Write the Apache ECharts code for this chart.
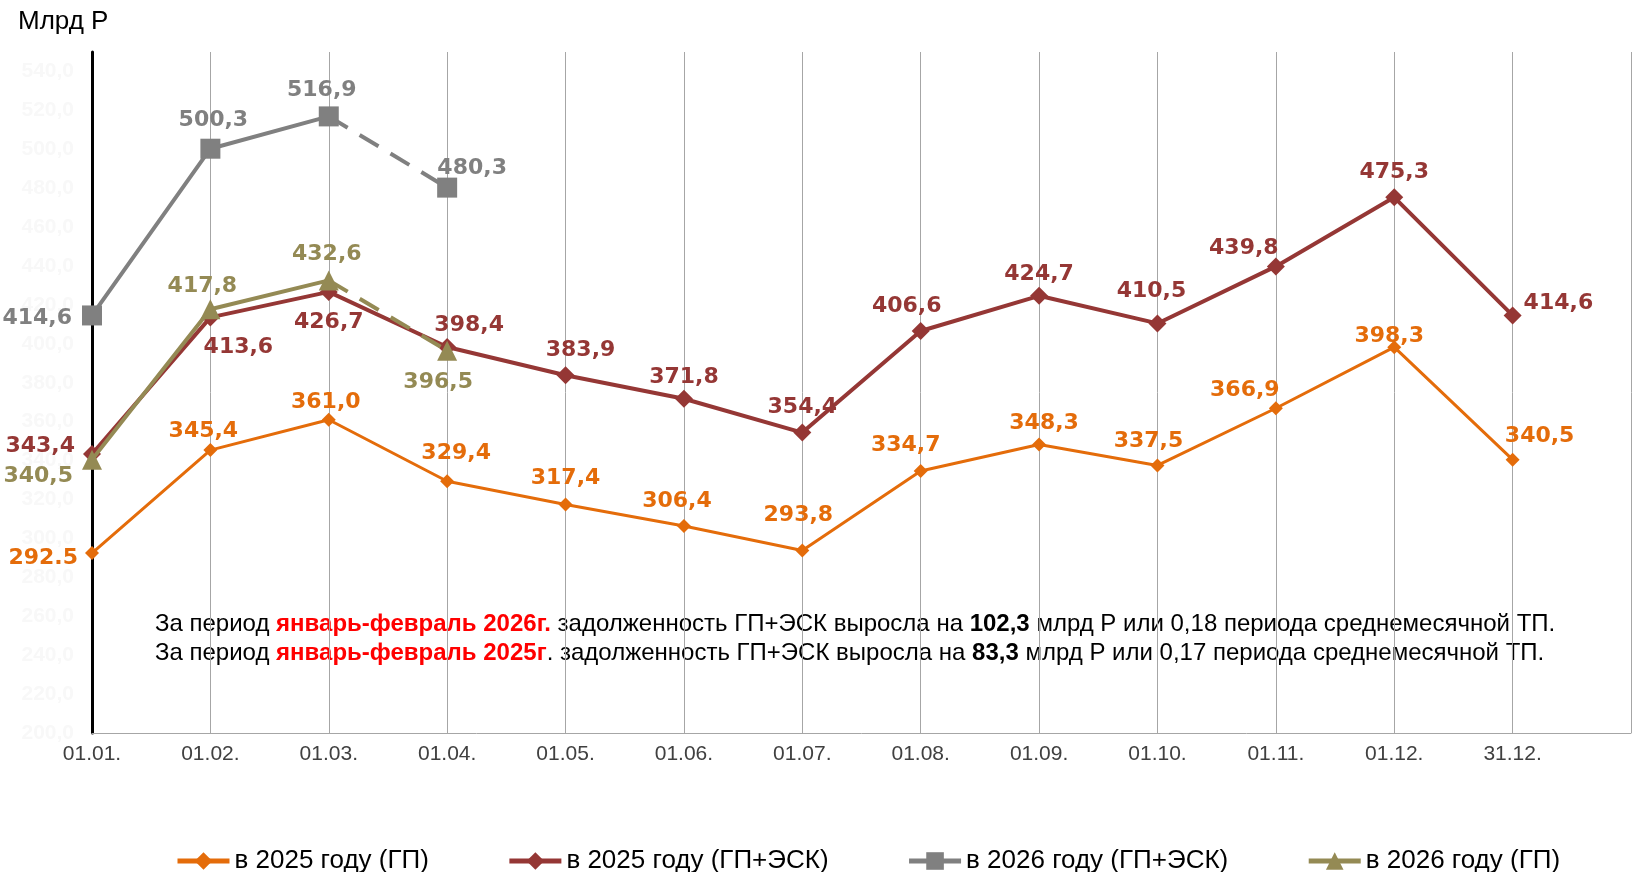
<!DOCTYPE html>
<html>
<head>
<meta charset="utf-8">
<script src="https://cdn.jsdelivr.net/npm/echarts@6/dist/echarts.min.js"></script>
<style>
  html, body { margin: 0; padding: 0; background: #fff; }
  #chart { width: 1634px; height: 872px; }
</style>
</head>
<body>
<div id="chart"></div>
<script>
// даты на оси
const categories = ['01.01.', '01.02.', '01.03.', '01.04.', '01.05.', '01.06.', '01.07.',
  '01.08.', '01.09.', '01.10.', '01.11.', '01.12.', '31.12.']
// в 2025 году (ГП)
const gp2025 = [292.5, 345.4, 361.0, 329.4, 317.4, 306.4, 293.8, 334.7, 348.3, 337.5, 366.9, 398.3, 340.5]
// в 2025 году (ГП+ЭСК)
const gpEsk2025 = [343.4, 413.6, 426.7, 398.4, 383.9, 371.8, 354.4, 406.6, 424.7, 410.5, 439.8, 475.3, 414.6]
// в 2026 году (ГП+ЭСК)
const gpEsk2026 = [414.6, 500.3, 516.9, 480.3]
// в 2026 году (ГП)
const gp2026 = [340.5, 417.8, 432.6, 396.5]

const names = ['в 2025 году (ГП)', 'в 2025 году (ГП+ЭСК)', 'в 2026 году (ГП+ЭСК)', 'в 2026 году (ГП)']
const colors = ['#e46c0a', '#953735', '#808080', '#948a54']

// положения подписей
const gp2025Pos = [
  { position: 'left', distance: 7, offset: [0, 5] },
  { offset: [-7, 4] }, { offset: [-3, 6] }, { offset: [9, -5] }, { offset: [0, -3] },
  { offset: [-7, -2] }, { offset: [-4, -12] }, { offset: [-15, -3] }, { offset: [5, 2] },
  { offset: [-9, -1] }, { offset: [-31, 5] }, { offset: [-5, 12] }, { offset: [27, 0] }
]
const gpEsk2025Pos = [
  { position: 'left', distance: 8, offset: [0, -8] },
  { position: 'bottom', offset: [28, 5] }, { position: 'bottom', offset: [0, 5] },
  { offset: [22, 3] }, { offset: [15, 0] }, { offset: [0, 4] }, { offset: [0, 0] },
  { offset: [-14, 0] }, { offset: [0, 3] }, { offset: [-6, -7] }, { offset: [-32, 7] },
  { offset: [0, 0] }, { position: 'right', distance: 2, offset: [0, -12] }
]
const gpEsk2026Pos = [
  { position: 'left', distance: 10, offset: [0, 3] },
  { offset: [3, -2] }, { offset: [-7, 0] }, { offset: [25, 7] }
]
const gp2026Pos = [
  { position: 'left', distance: 9, offset: [0, 17] },
  { offset: [-8, 3] }, { offset: [-2, 0] }, { position: 'bottom', offset: [-9, 6] }
]

const fmt = (v, sep) => v.toFixed(1).replace('.', sep || ',')

const labelBase = (color) => ({
  show: true,
  position: 'top',
  color: color,
  fontFamily: 'DejaVu Sans',
  fontWeight: 'bold',
  fontSize: 22
})

function buildLine (idx, values, pos, symbol, size, width) {
  return {
    name: names[idx],
    type: 'line',
    symbol: symbol,
    symbolSize: size,
    z: 2 + idx,
    itemStyle: { color: colors[idx] },
    lineStyle: { color: colors[idx], width: width },
    label: Object.assign(labelBase(colors[idx]), {
      formatter: p => fmt(p.value, (idx === 0 && p.dataIndex === 0) ? '.' : ',')
    }),
    data: values.map((v, i) => ({ value: v, label: pos[i] }))
  }
}

// линии 2026 года: последний отрезок пунктиром
function buildSplit (idx, values, pos, symbol, size, width) {
  const last = values.length - 1
  const label = Object.assign(labelBase(colors[idx]), {
    formatter: p => fmt(p.value)
  })
  const solid = {
    name: names[idx],
    type: 'line',
    symbol: symbol,
    symbolSize: size,
    z: 2 + idx,
    itemStyle: { color: colors[idx] },
    lineStyle: { color: colors[idx], width: width },
    label: label,
    data: values.map((v, i) => i < last ? { value: v, label: pos[i] } : '-')
  }
  const dashed = {
    name: names[idx],
    type: 'line',
    symbol: symbol,
    symbolSize: size,
    z: 2 + idx,
    itemStyle: { color: colors[idx] },
    lineStyle: { color: colors[idx], width: width, type: [22, 14] },
    label: label,
    data: values.map((v, i) => {
      if (i === last) return { value: v, label: pos[i] }
      if (i === last - 1) return { value: v, symbol: 'none', label: { show: false } }
      return '-'
    })
  }
  return [solid, dashed]
}

const chart = echarts.init(document.getElementById('chart'))

const txt = (extra) => Object.assign({ fontFamily: 'Liberation Sans', fontSize: 24, fill: '#000', lineHeight: 29 }, extra)

const option = {
  animation: false,
  color: colors,
  grid: { left: 92, right: -11, top: 52, bottom: 139 },
  graphic: [
    {
      type: 'text',
      left: 18,
      top: 9,
      style: { text: 'Млрд Р', font: '26px "Liberation Sans"', fill: '#000' }
    },
    {
      type: 'text',
      left: 155,
      top: 612,
      style: {
        text: '{n|За период }{r|январь-февраль 2026г.}{n| задолженность ГП+ЭСК выросла на }{b|102,3}{n| млрд Р или 0,18 периода среднемесячной ТП.}\n' +
          '{n|За период }{r|январь-февраль 2025г}{n|. задолженность ГП+ЭСК выросла на }{b|83,3}{n| млрд Р или 0,17 периода среднемесячной ТП.}',
        rich: {
          n: txt({}),
          r: txt({ fontWeight: 'bold', fill: '#ff0000' }),
          b: txt({ fontWeight: 'bold' })
        }
      }
    }
  ],
  legend: {
    left: 170,
    top: 843,
    itemWidth: 52,
    itemHeight: 22,
    itemGap: 78,
    data: names,
    lineStyle: { width: 5 },
    textStyle: { fontFamily: 'Liberation Sans', fontSize: 26, color: '#000' }
  },
  xAxis: {
    type: 'category',
    boundaryGap: false,
    data: categories.concat(['']),
    axisLine: { lineStyle: { color: '#a6a6a6', width: 1 } },
    axisTick: { show: false },
    axisLabel: { color: '#404040', fontFamily: 'Liberation Sans', fontSize: 21, margin: 11 },
    splitLine: { show: true, lineStyle: { color: '#a6a6a6', width: 1 } }
  },
  yAxis: {
    type: 'value',
    min: 200,
    max: 550,
    interval: 20,
    axisLine: { show: true, lineStyle: { color: '#000', width: 3 } },
    axisTick: { show: false },
    splitLine: { show: false },
    axisLabel: {
      showMaxLabel: false,
      color: '#f8f8f8',
      fontFamily: 'Liberation Sans',
      fontWeight: 'bold',
      fontSize: 21,
      margin: 18,
      formatter: v => fmt(v)
    }
  },
  series: [
    buildLine(0, gp2025, gp2025Pos, 'diamond', 14, 3),
    buildLine(1, gpEsk2025, gpEsk2025Pos, 'diamond', 18, 4)
  ].concat(
    buildSplit(2, gpEsk2026, gpEsk2026Pos, 'rect', 20, 4),
    buildSplit(3, gp2026, gp2026Pos, 'triangle', 20, 4)
  )
}

chart.setOption(option)
</script>
</body>
</html>
